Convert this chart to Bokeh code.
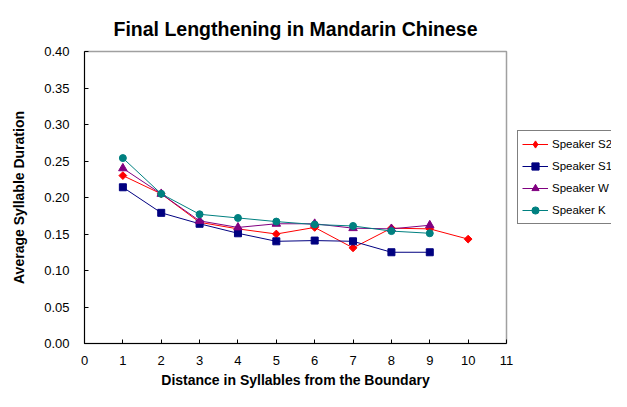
import numpy as np
from bokeh.plotting import figure
from bokeh.layouts import row
from bokeh.models import Legend, LegendItem, Range1d, FixedTicker, NumeralTickFormatter
from bokeh.embed import file_html
from bokeh.resources import INLINE

# ---- data ----
x_s2 = [1, 2, 3, 4, 5, 6, 7, 8, 9, 10]
speaker_s2 = [0.230, 0.205, 0.166, 0.157, 0.150, 0.159, 0.131, 0.158, 0.157, 0.143]
x_s1 = [1, 2, 3, 4, 5, 6, 7, 8, 9]
speaker_s1 = [0.214, 0.179, 0.164, 0.151, 0.140, 0.141, 0.140, 0.125, 0.125]
x_w = [1, 2, 3, 4, 5, 6, 7, 8, 9]
speaker_w = [0.240, 0.205, 0.168, 0.159, 0.164, 0.164, 0.158, 0.157, 0.162]
x_k = [1, 2, 3, 4, 5, 6, 7, 8, 9]
speaker_k = [0.254, 0.205, 0.177, 0.172, 0.167, 0.163, 0.161, 0.154, 0.151]
x_ticks = list(range(0, 12))
y_ticks = [0.0, 0.05, 0.10, 0.15, 0.20, 0.25, 0.30, 0.35, 0.40]

FONT = "Liberation Sans"

p = figure(width=514, height=391, output_backend="svg", toolbar_location=None,
           x_range=Range1d(0, 11), y_range=Range1d(0, 0.40),
           min_border_left=84, min_border_right=8, min_border_top=51, min_border_bottom=48,
           title="Final Lengthening in Mandarin Chinese")

p.title.text_font = FONT
p.title.text_font_size = "19.5px"
p.title.text_font_style = "bold"
p.title.align = "center"
p.title.vertical_align = "top"
p.title.text_color = "black"
p.title.standoff = 20

p.background_fill_color = "white"
p.border_fill_color = "white"
p.outline_line_color = "#a0a0a0"
p.outline_line_width = 1.5
p.xgrid.visible = False
p.ygrid.visible = False

for ax in (p.xaxis[0], p.yaxis[0]):
    ax.axis_line_color = "black"
    ax.major_tick_line_color = "black"
    ax.major_tick_in = 4
    ax.major_tick_out = 0
    ax.minor_tick_line_color = None
    ax.major_label_text_font = FONT
    ax.major_label_text_font_size = "13px"
    ax.major_label_text_color = "black"
    ax.axis_label_text_font = FONT
    ax.axis_label_text_font_size = "14px"
    ax.axis_label_text_font_style = "bold"
    ax.axis_label_text_color = "black"

p.xaxis.ticker = FixedTicker(ticks=x_ticks)
p.yaxis.ticker = FixedTicker(ticks=y_ticks)
p.yaxis.formatter = NumeralTickFormatter(format="0.00")
p.xaxis.axis_label = "Distance in Syllables from the Boundary"
p.yaxis.axis_label = "Average Syllable Duration"
p.xaxis.major_label_standoff = 12
p.xaxis.axis_label_standoff = 4
p.yaxis.major_label_standoff = 15
p.yaxis.axis_label_standoff = 14

# name, x, y, colour, marker in plot, size, angle, marker in legend, legend size
series = [
    ("Speaker S2", x_s2, speaker_s2, "#FF0000", "square", 5.5, np.pi / 4, "diamond", 10),
    ("Speaker S1", x_s1, speaker_s1, "#000080", "square", 7, 0, "square", 7),
    ("Speaker W", x_w, speaker_w, "#800080", "triangle", 8.5, 0, "triangle", 8.5),
    ("Speaker K", x_k, speaker_k, "#008080", "circle", 7, 0, "circle", 7),
]

for name, xs, ys, color, marker, size, angle, lm, ls in series:
    p.line(xs, ys, line_color=color, line_width=1)
    p.scatter(xs, ys, marker=marker, size=size, angle=angle,
              fill_color=color, line_color=color)

# legend panel: a second, axis-less figure whose view range lies away from the data,
# so only its legend is seen
p2 = figure(width=97, height=391, output_backend="svg", toolbar_location=None,
            x_range=Range1d(100, 101), y_range=Range1d(100, 101),
            x_axis_type=None, y_axis_type=None,
            min_border_left=0, min_border_right=0, min_border_top=0, min_border_bottom=0)
p2.outline_line_color = None
p2.xgrid.visible = False
p2.ygrid.visible = False
p2.background_fill_color = "white"
p2.border_fill_color = "white"

items = []
for name, xs, ys, color, marker, size, angle, lm, ls in series:
    l = p2.line(xs, ys, line_color=color, line_width=1)
    s = p2.scatter(xs, ys, marker=lm, size=ls,
                   fill_color=color, line_color=color)
    items.append(LegendItem(label=name, renderers=[l, s]))

legend = Legend(items=items, location=(3, 119))
legend.label_text_font = FONT
legend.label_text_font_size = "11.5px"
legend.label_text_color = "black"
legend.border_line_color = "black"
legend.border_line_width = 1
legend.background_fill_color = "white"
legend.background_fill_alpha = 1
legend.glyph_width = 26
legend.glyph_height = 18
legend.label_height = 18
legend.label_standoff = 4
legend.spacing = 4
legend.padding = 4
legend.margin = 0
p2.add_layout(legend, "center")

layout = row(p, p2, spacing=0)
open("out.html", "w").write(file_html(layout, INLINE))
